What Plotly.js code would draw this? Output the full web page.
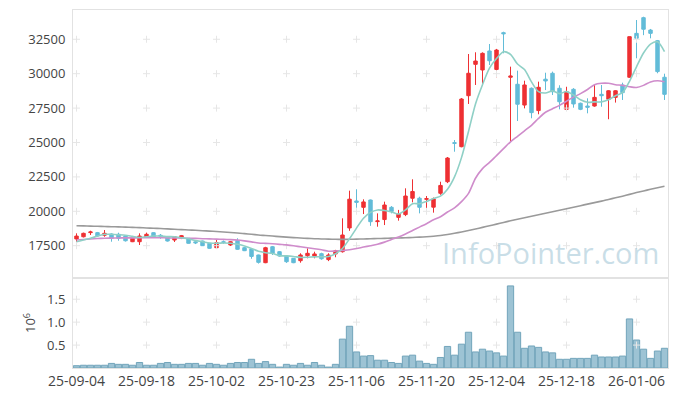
<!DOCTYPE html>
<html>
<head>
<meta charset="utf-8">
<script src="https://cdn.plot.ly/plotly-3.0.1.min.js"></script>
<style>html,body{margin:0;padding:0;background:#fff;}#chart{width:677px;height:396px;}</style>
</head>
<body>
<div id="chart"></div>
<script>
const dates = ["25-09-04","25-09-05","25-09-08","25-09-09","25-09-10","25-09-11","25-09-12","25-09-15","25-09-16","25-09-17",
"25-09-18","25-09-19","25-09-22","25-09-23","25-09-24","25-09-25","25-09-26","25-09-29","25-09-30","25-10-01",
"25-10-02","25-10-10","25-10-13","25-10-14","25-10-15","25-10-16","25-10-17","25-10-20","25-10-21","25-10-22",
"25-10-23","25-10-24","25-10-27","25-10-28","25-10-29","25-10-30","25-10-31","25-11-03","25-11-04","25-11-05",
"25-11-06","25-11-07","25-11-10","25-11-11","25-11-12","25-11-13","25-11-14","25-11-17","25-11-18","25-11-19",
"25-11-20","25-11-21","25-11-24","25-11-25","25-11-26","25-11-27","25-11-28","25-12-01","25-12-02","25-12-03",
"25-12-04","25-12-05","25-12-08","25-12-09","25-12-10","25-12-11","25-12-12","25-12-15","25-12-16","25-12-17",
"25-12-18","25-12-19","25-12-22","25-12-23","25-12-24","25-12-26","25-12-29","25-12-30","26-01-02","26-01-05",
"26-01-06","26-01-07","26-01-08","26-01-09","26-01-12"];

const openP = [17990,18150,18450,18450,18260,18350,18330,18205,17790,17790,
18110,18445,18260,18154,17914,18060,18038,17780,17840,17674,
17355,17790,17550,17880,17355,17260,16825,16265,17427,17064,
16750,16584,16410,16773,16750,16920,16490,16900,17064,18790,
20750,20290,20820,19250,19400,20290,19560,19760,20950,20950,
20870,20300,21310,22150,24990,24694,28400,30680,30270,31650,
30310,32980,29740,29230,27720,28940,27320,29600,30030,28940,
27410,28865,27850,27650,27650,28500,28140,28280,29180,29740,
32930,34070,33170,32400,29740];
const highP = [18400,18450,18590,18500,18640,18400,18445,18250,18100,18400,
18450,18480,18350,18200,18200,18280,18060,17830,17870,17700,
17914,17880,17840,18040,17400,17300,16850,17420,17480,17110,
16820,16600,16948,17310,17064,16990,16950,17200,19490,21500,
21600,20870,20850,19850,20700,20380,20100,21670,22325,21060,
21110,21000,22150,23945,25180,28230,31430,31555,31550,32157,
31800,33050,30510,30220,29490,29000,29420,30070,30150,29160,
29050,28950,27900,28210,29180,29180,28800,28800,29345,32700,
33900,34140,33250,32450,30000];
const lowP = [17790,18100,18280,18150,18150,17790,17860,17800,17760,17550,
18100,18100,18000,17800,17770,17980,17650,17620,17480,17280,
17330,17640,17480,17200,17110,16550,16200,16230,16825,16700,
16250,16230,16265,16584,16584,16480,16380,16660,17000,18580,
20250,19800,18940,18880,19000,19850,19320,19650,20650,19850,
20040,19900,21200,22050,24330,24650,27800,29180,29130,30630,
29740,31480,25060,26560,27480,26760,27050,28810,28450,27410,
27350,27530,27350,27120,27600,27600,26690,27900,28090,29700,
31120,32800,32570,30030,28090];
const closeP = [18200,18400,18500,18210,18400,18040,18040,17860,18040,18205,
18330,18110,18200,17840,18154,18230,17674,17710,17500,17310,
17718,17740,17790,17238,17137,16720,16290,17355,16948,16750,
16337,16265,16825,16948,16900,16550,16825,17130,18278,20880,
20650,20680,19244,19300,20458,19990,19800,21110,21440,20290,
20920,20900,21880,23870,24940,28160,30030,30920,31480,30940,
31720,32900,29830,27780,29180,27170,29010,29470,28690,27960,
28690,27800,27410,27560,28280,28400,28760,28760,28620,32690,
32570,33230,32930,30150,28500];

const ma5 = [17790,17920,18040,18200,18330,18330,18300,18260,18180,18100,
18150,18205,18200,18160,18150,18080,18000,17870,17790,17700,
17680,17700,17680,17600,17480,17300,17090,16990,16930,16780,
16760,16720,16650,16660,16690,16700,16720,16920,17300,18000,
18780,19500,19920,20100,20060,19950,19800,20100,20550,20550,
20720,20930,21100,21600,22500,23900,25800,27800,29200,30400,
31100,31600,31400,30700,30300,29400,28700,28600,28750,28550,
28700,28450,28100,27920,27950,27950,28100,28400,28620,29450,
30500,31500,32150,32320,31600];
const ma20 = [17910,17950,17990,18020,18040,18050,18060,18070,18070,18075,
18080,18080,18075,18070,18060,18050,18040,18030,18010,17995,
17980,17960,17940,17910,17850,17780,17700,17670,17640,17600,
17560,17500,17420,17350,17280,17200,17100,17110,17150,17200,
17290,17400,17500,17610,17760,17950,18130,18350,18600,18850,
19100,19380,19600,19950,20250,20700,21300,22400,23100,23550,
24050,24550,25050,25450,25850,26250,26750,27200,27450,27700,
28000,28300,28550,28850,29200,29300,29300,29200,29150,29050,
29000,29150,29400,29490,29420];
const ma120 = [18950,18940,18925,18910,18895,18880,18865,18850,18830,18810,
18790,18770,18745,18720,18695,18670,18645,18620,18590,18560,
18530,18500,18460,18420,18380,18330,18280,18240,18200,18160,
18120,18090,18060,18030,18010,17990,17975,17965,17960,17965,
17975,17990,18005,18020,18035,18050,18065,18080,18100,18120,
18150,18190,18240,18310,18400,18500,18610,18720,18830,18950,
19070,19190,19310,19420,19530,19640,19750,19860,19970,20080,
20190,20300,20410,20520,20630,20740,20860,20980,21100,21230,
21360,21480,21600,21710,21820];

const volume = [50000,60000,60000,60000,60000,100000,80000,80000,60000,120000,
60000,60000,100000,120000,80000,80000,100000,100000,60000,100000,
80000,60000,100000,120000,120000,190000,100000,140000,80000,20000,
80000,60000,100000,60000,120000,60000,20000,80000,630000,910000,
350000,260000,270000,170000,170000,120000,100000,260000,280000,150000,
100000,80000,230000,470000,280000,520000,780000,350000,410000,370000,
330000,260000,1790000,780000,430000,480000,450000,350000,330000,190000,
190000,210000,210000,210000,280000,240000,240000,240000,260000,1070000,
610000,410000,210000,370000,430000];

const priceTicks = [17500,20000,22500,25000,27500,30000,32500];
const volTicks = [500000,1000000,1500000];
const volTickText = ["0.5","1.0","1.5"];
const xTickIdx = [0,10,20,30,40,50,60,70,80];

const xTickVals = xTickIdx.map(i => dates[i]);
const gridCol = '#e6e6e6';
const FONT = '"Open Sans", "Noto Sans", sans-serif';

const crossPX = [], crossPY = [], crossVX = [], crossVY = [];
xTickVals.forEach(x => { priceTicks.forEach(y => { crossPX.push(x); crossPY.push(y); }); volTicks.forEach(y => { crossVX.push(x); crossVY.push(y); }); });

const traces = [
  {type:'scatter', mode:'markers', x:crossVX, y:crossVY, xaxis:'x', yaxis:'y2', hoverinfo:'skip', showlegend:false,
   marker:{symbol:'cross-thin', size:5, line:{color:gridCol, width:1}}},
  {type:'bar', x:dates, y:volume, xaxis:'x', yaxis:'y2', showlegend:false, width:0.9,
   marker:{color:'rgba(140,184,204,0.85)', line:{color:'#72a5bb', width:1}}},
  {type:'scatter', mode:'markers', x:crossPX, y:crossPY, xaxis:'x2', yaxis:'y', hoverinfo:'skip', showlegend:false,
   marker:{symbol:'cross-thin', size:5, line:{color:gridCol, width:1}}},
  {type:'candlestick', x:dates, open:openP, high:highP, low:lowP, close:closeP, xaxis:'x2', yaxis:'y', showlegend:false,
   increasing:{line:{color:'#ee3033', width:1}, fillcolor:'#ee3033'},
   decreasing:{line:{color:'#62bcd8', width:1}, fillcolor:'#62bcd8'}, whiskerwidth:0},
  {type:'scatter', mode:'lines', x:dates, y:ma120, xaxis:'x2', yaxis:'y', line:{color:'#9a9a9a', width:1.6, shape:'spline', smoothing:0.8}, showlegend:false, hoverinfo:'skip'},
  {type:'scatter', mode:'lines', x:dates, y:ma20, xaxis:'x2', yaxis:'y', line:{color:'#cf8ccb', width:1.6, shape:'spline', smoothing:0.8}, showlegend:false, hoverinfo:'skip'},
  {type:'scatter', mode:'lines', x:dates, y:ma5, xaxis:'x2', yaxis:'y', line:{color:'#8fd0c6', width:1.6, shape:'spline', smoothing:0.8}, showlegend:false, hoverinfo:'skip'}
];

const axCommon = {type:'category', categoryorder:'array', categoryarray:dates, range:[-0.5,84.5],
  showgrid:false, zeroline:false, showline:true, mirror:true, linecolor:'#e2e2e2', linewidth:1, rangeslider:{visible:false}};

const layout = {
  width:677, height:396,
  margin:{l:73, r:9, t:10, b:28},
  paper_bgcolor:'#ffffff', plot_bgcolor:'#ffffff',
  font:{family:FONT, size:13, color:'#444'},
  showlegend:false, bargap:0.1,
  xaxis:Object.assign({}, axCommon, {anchor:'y2', tickmode:'array', tickvals:xTickVals, ticktext:xTickVals,
    tickfont:{size:14, color:'#444'}}),
  xaxis2:Object.assign({}, axCommon, {anchor:'y', matches:'x', showticklabels:false, tickmode:'array', tickvals:xTickVals}),
  yaxis:{domain:[0.2514,1], range:[15153,34628], tickmode:'array', tickvals:priceTicks, ticktext:priceTicks.map(String),
    showgrid:false, zeroline:false, showline:true, mirror:true, linecolor:'#e2e2e2', linewidth:1,
    ticklabelstandoff:4, tickfont:{size:13, color:'#444'}},
  yaxis2:{domain:[0,0.2514], range:[0,1963000], tickmode:'array', tickvals:volTicks, ticktext:volTickText,
    showgrid:false, zeroline:false, showline:true, mirror:true, linecolor:'#e2e2e2', linewidth:1,
    ticklabelstandoff:4, tickfont:{size:13, color:'#444'},
    title:{text:'10<sup>6</sup>', font:{size:13, color:'#444'}, standoff:8}},
  annotations:[{text:'InfoPointer.com', xref:'paper', yref:'paper', x:0.802, y:0.322, xanchor:'center', yanchor:'middle',
    showarrow:false, font:{family:FONT, size:29, color:'rgba(165,200,216,0.6)'}}]
};

Plotly.newPlot('chart', traces, layout, {displayModeBar:false, staticPlot:true});
</script>
</body>
</html>
